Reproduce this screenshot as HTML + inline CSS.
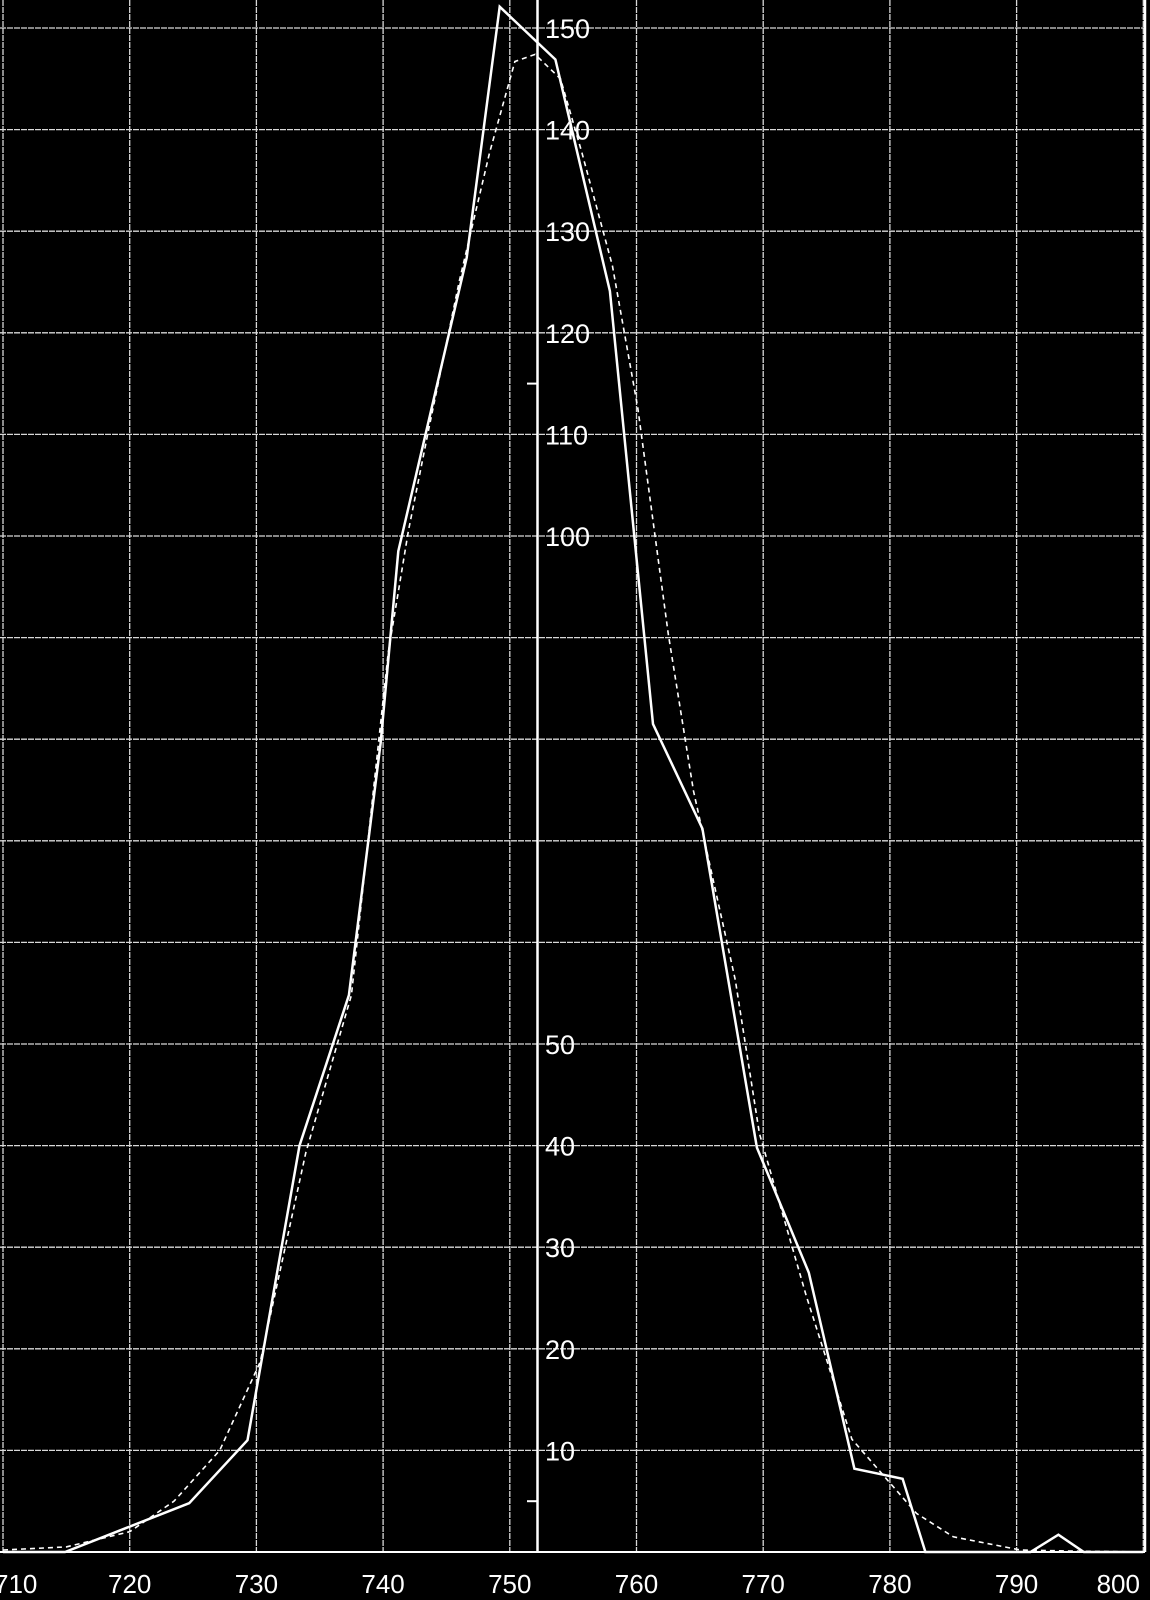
<!DOCTYPE html>
<html><head><meta charset="utf-8"><style>
html,body{margin:0;padding:0;background:#000;}
svg{display:block;}
text{font-family:"Liberation Sans",sans-serif;fill:#fff;}
</style></head><body>
<svg id="chart" width="1150" height="1600" viewBox="0 0 1150 1600" xmlns="http://www.w3.org/2000/svg">
<rect x="0" y="0" width="1150" height="1600" fill="#000"/>
<g id="grid"></g>
<g id="axis"></g>
<g id="series"></g>
<g id="labels"></g>
</svg>
<script>
const xTicks = [710,720,730,740,750,760,770,780,790,800];
const yGridValues = [10,20,30,40,50,60,70,80,90,100,110,120,130,140,150];
const yLabels = [10,20,30,40,50,100,110,120,130,140,150];
const observedX = [710,714.9,724.7,729.3,733.4,737.3,739.8,741.2,746.6,749.2,753.6,757.9,761.3,765.2,769.5,773.6,777.2,781.0,782.8,791.1,793.3,795.3,800];
const observedY = [0,0,4.8,11,40,54.8,79.6,98.5,127.4,152.1,146.9,124.1,81.5,71.2,39.8,27.5,8.2,7.2,0,0,1.7,0,0];
const fittedX = [710,715,720,723.5,727.1,730.3,733.9,737.5,740.4,742,743.6,746,748.4,750.4,752,754,755.7,758.1,760.1,762.5,764.5,767.8,769.7,773.4,777,782.1,785,790.3,794,800];
const fittedY = [0.2,0.5,2,5,10,18.7,39.3,54.8,88.5,100.5,110.5,125,137.7,146.7,147.4,145,137.7,126.6,112.6,90.4,74.9,56.3,41.2,25.2,11.1,3.8,1.5,0.2,0.1,0];

const NS='http://www.w3.org/2000/svg';
const xS = v => 3 + (v-710)*12.67;
const yS = v => 1552 - v*10.16;
function mk(tag, attrs, parent){const e=document.createElementNS(NS,tag);for(const k in attrs)e.setAttribute(k,attrs[k]);parent.appendChild(e);return e;}
const grid=document.getElementById('grid'), axis=document.getElementById('axis'), series=document.getElementById('series'), labels=document.getElementById('labels');

xTicks.forEach((t,i)=>{
  const l=mk('line',{x1:xS(t),x2:xS(t),y1:0,y2:1552,stroke:'#d8d8d8','stroke-width':1.3,'stroke-dasharray':'6 1'},grid);
  
  
  let lx=xS(t), anchor='middle';
  if(i===0){lx=-6;anchor='start';}
  if(i===xTicks.length-1){lx=xS(t)-25;}
  const tx=mk('text',{x:lx,y:1593,'text-anchor':anchor,'font-size':26},labels);
  tx.textContent=t;
  
  
});
yGridValues.forEach(v=>{
  const l=mk('line',{x1:0,x2:1145,y1:yS(v),y2:yS(v),stroke:'#d8d8d8','stroke-width':1.3,'stroke-dasharray':'6 1'},grid);
  
  
});
const base=mk('line',{x1:0,x2:1145,y1:1552,y2:1552,stroke:'#fff','stroke-width':2},axis);


const rb=mk('line',{x1:1145,x2:1145,y1:0,y2:1552,stroke:'#fff','stroke-width':2.5},axis);


const ya=mk('line',{x1:537.5,x2:537.5,y1:0,y2:1552,stroke:'#fff','stroke-width':2.5},axis);


[5,115].forEach(v=>{
  const t=mk('line',{x1:527,x2:537,y1:yS(v),y2:yS(v),stroke:'#fff','stroke-width':2},axis);
  
  
});
yLabels.forEach(v=>{
  const tx=mk('text',{x:545,y:yS(v)+10,'font-size':27},labels);
  tx.textContent=v;
  
  
});
const pts=(xs,ys)=>xs.map((x,i)=>xS(x).toFixed(1)+','+yS(ys[i]).toFixed(1)).join(' ');
const fit=mk('polyline',{points:pts(fittedX,fittedY),fill:'none',stroke:'#fff','stroke-width':1.6,'stroke-dasharray':'5 4'},series);


const obs=mk('polyline',{points:pts(observedX,observedY),fill:'none',stroke:'#fff','stroke-width':2.5,'stroke-linejoin':'miter'},series);


</script>
</body></html>
